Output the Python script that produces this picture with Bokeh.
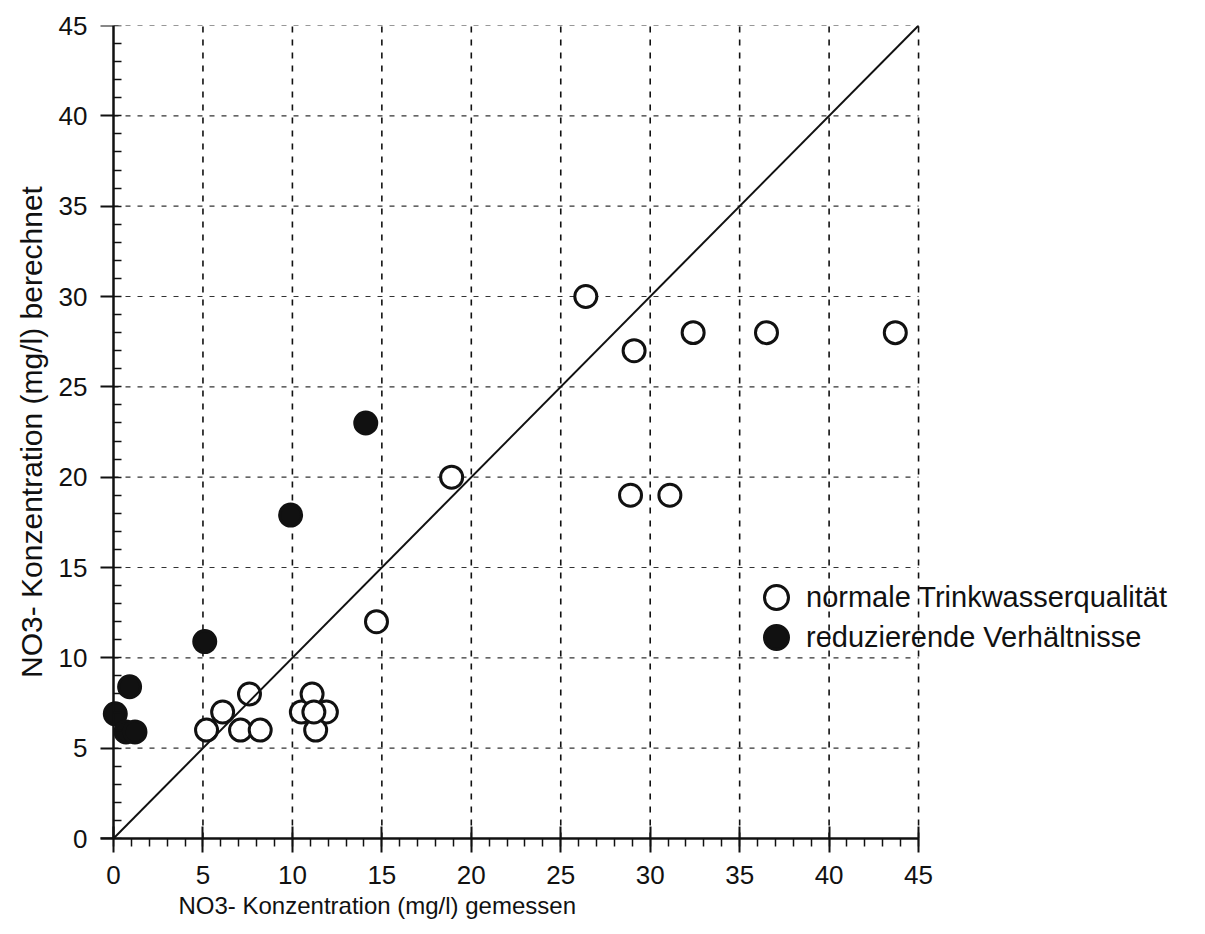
from bokeh.plotting import figure
from bokeh.models import (Range1d, FixedTicker, Slope, Legend, LegendItem,
                          ColumnDataSource, Title, LinearAxis)
from bokeh.embed import file_html
from bokeh.resources import INLINE

# measured (x) vs calculated (y) NO3- concentrations, mg/l
normal_x = [26.4, 29.1, 32.4, 36.5, 43.7, 28.9, 31.1, 18.9, 14.7,
            5.2, 6.1, 7.6, 7.1, 8.2, 10.5, 11.1, 11.9, 11.3, 11.2]
normal_y = [30.0, 27.0, 28.0, 28.0, 28.0, 19.0, 19.0, 20.0, 12.0,
            6.0, 7.0, 8.0, 6.0, 6.0, 7.0, 8.0, 7.0, 6.0, 7.0]
reduz_x = [0.1, 0.9, 0.7, 1.2, 5.1, 9.9, 14.1]
reduz_y = [6.9, 8.4, 5.9, 5.9, 10.9, 17.9, 23.0]

ticks = [0, 5, 10, 15, 20, 25, 30, 35, 40, 45]
x_label = "NO3- Konzentration (mg/l) gemessen"
y_label = "NO3- Konzentration (mg/l) berechnet"
legend_labels = ["normale Trinkwasserqualität", "reduzierende Verhältnisse"]

AX_MIN, AX_MAX = 0, 45
X_START, X_END = -0.727, 60.76   # frame wider than the axis (legend room)
FONT = "Liberation Sans"
INK = "#111111"

p = figure(width=1200, height=926, output_backend="svg", toolbar_location=None,
           x_range=Range1d(X_START, X_END), y_range=Range1d(AX_MIN, AX_MAX),
           min_border_left=100, min_border_right=0, min_border_top=25,
           min_border_bottom=88)
p.outline_line_color = None
p.background_fill_color = "white"
p.border_fill_color = "white"
p.xgrid.visible = False
p.ygrid.visible = False

minor = list(range(AX_MIN, AX_MAX + 1))
for ax in (p.xaxis[0], p.yaxis[0]):
    ax.ticker = FixedTicker(ticks=ticks, minor_ticks=minor)
    ax.axis_line_color = INK
    ax.axis_line_width = 2.5
    ax.major_tick_line_color = INK
    ax.major_tick_line_width = 2
    ax.minor_tick_line_color = INK
    ax.minor_tick_line_width = 1.5
    ax.major_label_text_font = FONT
    ax.major_label_text_font_size = "26px"
    ax.major_label_text_color = INK

# x axis
p.xaxis.bounds = (X_START, AX_MAX)
p.xaxis.major_tick_in = 12
p.xaxis.major_tick_out = 14
p.xaxis.minor_tick_in = 0
p.xaxis.minor_tick_out = 8
p.xaxis.major_label_standoff = 13

# y axis line + ticks, drawn at x = 0
yax = p.yaxis[0]
yax.bounds = (AX_MIN, AX_MAX)
yax.fixed_location = AX_MIN
yax.major_tick_in = 0
yax.major_tick_out = 14
yax.minor_tick_in = 8
yax.minor_tick_out = 0
yax.major_label_standoff = 0
yax.major_label_overrides = {t: "" for t in ticks}

# y axis tick labels + title
ylab = LinearAxis(ticker=FixedTicker(ticks=ticks), axis_line_color=None,
                  major_tick_line_color=None, minor_tick_line_color=None,
                  major_tick_in=0, major_tick_out=0, major_label_standoff=13,
                  major_label_text_font=FONT, major_label_text_font_size="26px",
                  major_label_text_color=INK, axis_label=y_label,
                  axis_label_text_font=FONT, axis_label_text_font_size="30px",
                  axis_label_text_font_style="normal", axis_label_text_color=INK,
                  axis_label_standoff=8)
p.add_layout(ylab, "left")

# x axis label centred under the 0..45 axis (frame is wider)
p.add_layout(Title(text=x_label, align="left", offset=78, standoff=7,
                   text_font=FONT, text_font_size="24px",
                   text_font_style="normal", text_color=INK), "below")

# vertical grid
n = len(ticks) - 1
vg = ColumnDataSource(dict(x=ticks[1:], y0=[AX_MIN] * n, y1=[AX_MAX] * n))
p.segment(x0="x", y0="y0", x1="x", y1="y1", source=vg, line_color=INK,
          line_width=1.6, line_dash="6 7")
# horizontal grid
hg = ColumnDataSource(dict(y=ticks[1:], x0=[AX_MIN] * n, x1=[AX_MAX] * n))
p.segment(x0="x0", y0="y", x1="x1", y1="y", source=hg, line_color="#333333",
          line_width=1.2, line_dash="5 7")

p.add_layout(Slope(gradient=1, y_intercept=0, line_color=INK, line_width=2))

src_n = ColumnDataSource(dict(x=normal_x, y=normal_y))
src_r = ColumnDataSource(dict(x=reduz_x, y=reduz_y))
r_red = p.scatter("x", "y", source=src_r, size=22, fill_color=INK,
                  line_color=INK, line_width=3)
r_norm = p.scatter("x", "y", source=src_n, size=22, fill_color="white",
                   line_color=INK, line_width=3)

common = dict(padding=0, margin=0, spacing=0, glyph_width=60, glyph_height=60,
              label_height=26, label_standoff=0, label_text_font=FONT,
              label_text_font_size="29px", label_text_color=INK,
              border_line_alpha=0, background_fill_alpha=0)
leg1 = Legend(items=[LegendItem(label=legend_labels[0], renderers=[r_norm])],
              location=(646, 211), **common)
leg2 = Legend(items=[LegendItem(label=legend_labels[1], renderers=[r_red])],
              location=(646, 171), **common)
p.add_layout(leg1)
p.add_layout(leg2)

open("out.html", "w").write(file_html(p, INLINE))
